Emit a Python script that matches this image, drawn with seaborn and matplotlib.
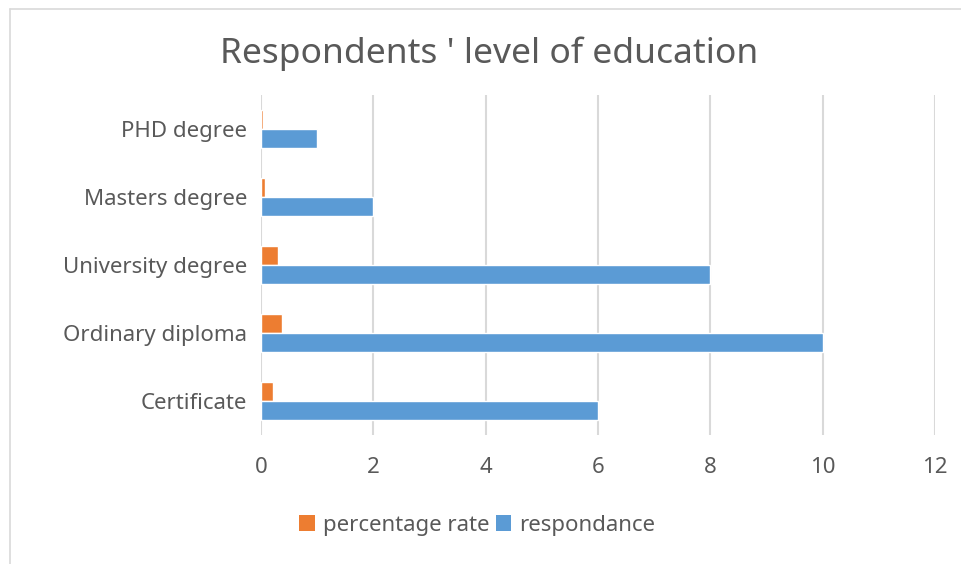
import matplotlib
matplotlib.use("Agg")
import matplotlib.pyplot as plt
import seaborn as sns
import pandas as pd
from matplotlib.patches import Patch
from matplotlib.lines import Line2D

categories = ["PHD degree", "Masters degree", "University degree", "Ordinary diploma", "Certificate"]
respondance = [1, 2, 8, 10, 6]
percentage_rate = [0.04, 0.07, 0.30, 0.37, 0.22]
series_names = ["percentage rate", "respondance"]
series_colors = ["#ED7D31", "#5B9BD5"]
x_ticks = [0, 2, 4, 6, 8, 10, 12]

df = pd.DataFrame({
    "level": categories * 2,
    "value": percentage_rate + respondance,
    "series": [series_names[0]] * len(categories) + [series_names[1]] * len(categories),
})

sns.set_theme(style="white")
plt.rcParams["font.family"] = ["Noto Sans", "DejaVu Sans"]
text_color = "#595959"

fig = plt.figure(figsize=(9.62, 5.64), dpi=100)
ax = fig.add_axes([0.2713, 0.2287, 0.7007, 0.6029])

sns.barplot(data=df, x="value", y="level", hue="series", order=categories,
            hue_order=series_names, palette=series_colors, orient="h",
            width=0.56, saturation=1, ax=ax, legend=False)

ax.set_xlim(0, 12)
ax.set_xticks(x_ticks)
ax.set_ylim(4.5, -0.5)
ax.grid(axis="x", color="#D9D9D9", linewidth=1.5)
ax.set_axisbelow(True)
for s in ax.spines.values():
    s.set_visible(False)
ax.tick_params(axis="both", length=0, labelsize=16, labelcolor=text_color)
ax.tick_params(axis="x", pad=16)
ax.tick_params(axis="y", pad=10)
ax.set_xlabel("")
ax.set_ylabel("")

fig.text(0.508, 0.905, "Respondents ' level of education", ha="center", va="center",
         fontsize=25.5, color=text_color)

handles = [Patch(facecolor=c, edgecolor="none") for c in series_colors]
fig.legend(handles, series_names, loc="center", bbox_to_anchor=(0.496, 0.069),
           ncol=2, frameon=False, fontsize=16, labelcolor=text_color,
           handlelength=0.7, handleheight=0.7, handletextpad=0.35, columnspacing=0.3)

# outer chart frame
fig.add_artist(Line2D([0.0104, 0.0104], [0, 0.984], transform=fig.transFigure,
                      color="#D9D9D9", linewidth=1.2))
fig.add_artist(Line2D([0.0104, 1.0], [0.984, 0.984], transform=fig.transFigure,
                      color="#D9D9D9", linewidth=1.2))

fig.savefig("out.png", dpi=100)
